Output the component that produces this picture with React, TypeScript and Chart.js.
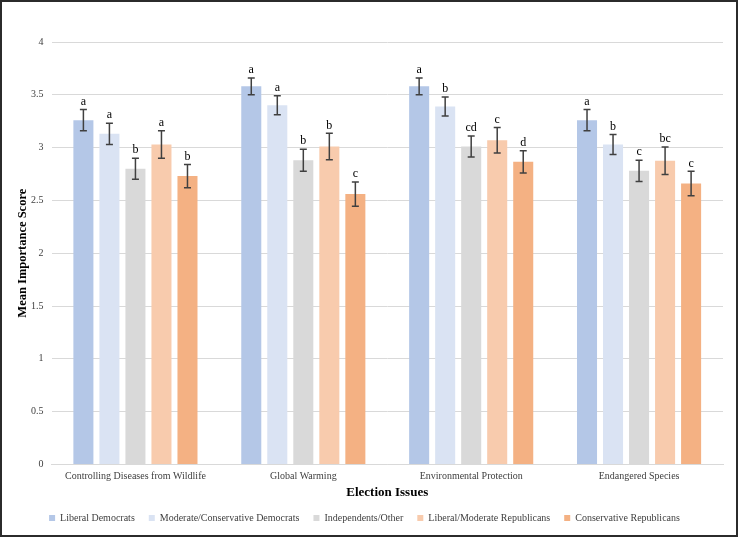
import React, { useEffect, useRef } from "react";
import { Chart, registerables } from "chart.js";

Chart.register(...registerables);

const categories = [
  "Controlling Diseases from Wildlife",
  "Global Warming",
  "Environmental Protection",
  "Endangered Species",
];

const seriesNames = [
  "Liberal Democrats",
  "Moderate/Conservative Democrats",
  "Independents/Other",
  "Liberal/Moderate Republicans",
  "Conservative Republicans",
];

const liberalDemocrats = [3.26, 3.58, 3.58, 3.26];
const moderateConservativeDemocrats = [3.13, 3.4, 3.39, 3.03];
const independentsOther = [2.8, 2.88, 3.01, 2.78];
const liberalModerateRepublicans = [3.03, 3.01, 3.07, 2.875];
const conservativeRepublicans = [2.73, 2.56, 2.865, 2.66];

const errLiberalDemocrats = [0.1, 0.08, 0.08, 0.1];
const errModerateConservativeDemocrats = [0.1, 0.09, 0.09, 0.095];
const errIndependentsOther = [0.1, 0.105, 0.1, 0.1];
const errLiberalModerateRepublicans = [0.13, 0.125, 0.12, 0.13];
const errConservativeRepublicans = [0.11, 0.115, 0.105, 0.115];

const lettersLiberalDemocrats = ["a", "a", "a", "a"];
const lettersModerateConservativeDemocrats = ["a", "a", "b", "b"];
const lettersIndependentsOther = ["b", "b", "cd", "c"];
const lettersLiberalModerateRepublicans = ["a", "b", "c", "bc"];
const lettersConservativeRepublicans = ["b", "c", "d", "c"];

const yTicks = [0, 0.5, 1, 1.5, 2, 2.5, 3, 3.5, 4];

const colors = ["#b4c7e7", "#dae3f3", "#d9d9d9", "#f8cbad", "#f4b183"];

const values = [
  liberalDemocrats,
  moderateConservativeDemocrats,
  independentsOther,
  liberalModerateRepublicans,
  conservativeRepublicans,
];
const errors = [
  errLiberalDemocrats,
  errModerateConservativeDemocrats,
  errIndependentsOther,
  errLiberalModerateRepublicans,
  errConservativeRepublicans,
];
const letters = [
  lettersLiberalDemocrats,
  lettersModerateConservativeDemocrats,
  lettersIndependentsOther,
  lettersLiberalModerateRepublicans,
  lettersConservativeRepublicans,
];

const FONT = "'Liberation Serif', 'Times New Roman', serif";

const errorBarPlugin = {
  id: "errorBars",
  afterDatasetsDraw(chart: any) {
    const ctx = chart.ctx;
    const yScale = chart.scales.y;
    ctx.save();
    chart.data.datasets.forEach((ds: any, i: number) => {
      const meta = chart.getDatasetMeta(i);
      meta.data.forEach((el: any, j: number) => {
        const v = ds.data[j];
        const e = errors[i][j];
        const x = el.x;
        const yT = yScale.getPixelForValue(v + e);
        const yB = yScale.getPixelForValue(v - e);
        ctx.strokeStyle = "#404040";
        ctx.lineWidth = 1.5;
        ctx.beginPath();
        ctx.moveTo(x, yT);
        ctx.lineTo(x, yB);
        ctx.moveTo(x - 3.5, yT);
        ctx.lineTo(x + 3.5, yT);
        ctx.moveTo(x - 3.5, yB);
        ctx.lineTo(x + 3.5, yB);
        ctx.stroke();
        ctx.fillStyle = "#000";
        ctx.font = `12px ${FONT}`;
        ctx.textAlign = "center";
        ctx.textBaseline = "bottom";
        ctx.fillText(letters[i][j], x, yT - 2);
      });
    });
    ctx.restore();
  },
};

export default function App() {
  const ref = useRef<HTMLCanvasElement | null>(null);

  useEffect(() => {
    document.body.style.margin = "0";
    if (!ref.current) return;
    const chart = new Chart(ref.current, {
      type: "bar",
      data: {
        labels: categories,
        datasets: seriesNames.map((name, i) => ({
          label: name,
          data: values[i],
          backgroundColor: colors[i],
          borderWidth: 0,
          categoryPercentage: 0.775,
          barPercentage: 0.77,
        })),
      },
      options: {
        animation: false,
        responsive: false,
        devicePixelRatio: 1,
        layout: { padding: { top: 40, left: 4, right: 13, bottom: 2 } },
        plugins: {
          legend: {
            position: "bottom",
            labels: {
              boxWidth: 6,
              boxHeight: 6,
              padding: 14,
              color: "#404040",
              font: { family: FONT, size: 10 },
            },
          },
          tooltip: { enabled: false },
        },
        scales: {
          x: {
            grid: { display: false, drawTicks: false },
            border: { color: "#d9d9d9" },
            ticks: { color: "#404040", font: { family: FONT, size: 10 }, padding: 6 },
            title: {
              display: true,
              text: "Election Issues",
              color: "#000",
              font: { family: FONT, size: 13, weight: "bold" },
              padding: { top: -4, bottom: -1 },
            },
          },
          y: {
            min: 0,
            max: 4,
            afterBuildTicks: (axis: any) => {
              axis.ticks = yTicks.map((v) => ({ value: v }));
            },
            grid: { color: "#d9d9d9", drawTicks: false },
            border: { display: false },
            ticks: {
              color: "#404040",
              font: { family: FONT, size: 10 },
              padding: 8,
              callback: (v: any) => String(v),
            },
            title: {
              display: true,
              text: "Mean Importance Score",
              color: "#000",
              font: { family: FONT, size: 12.5, weight: "bold" },
              padding: { top: 9, bottom: -7 },
            },
          },
        },
      },
      plugins: [errorBarPlugin],
    });
    return () => chart.destroy();
  }, []);

  return (
    <div
      style={{
        position: "relative",
        width: 738,
        height: 537,
        boxSizing: "border-box",
        border: "2px solid #2b2b2b",
        background: "#fff",
      }}
    >
      <canvas
        ref={ref}
        width={734}
        height={533}
        style={{ display: "block", width: 734, height: 533 }}
      />
    </div>
  );
}
